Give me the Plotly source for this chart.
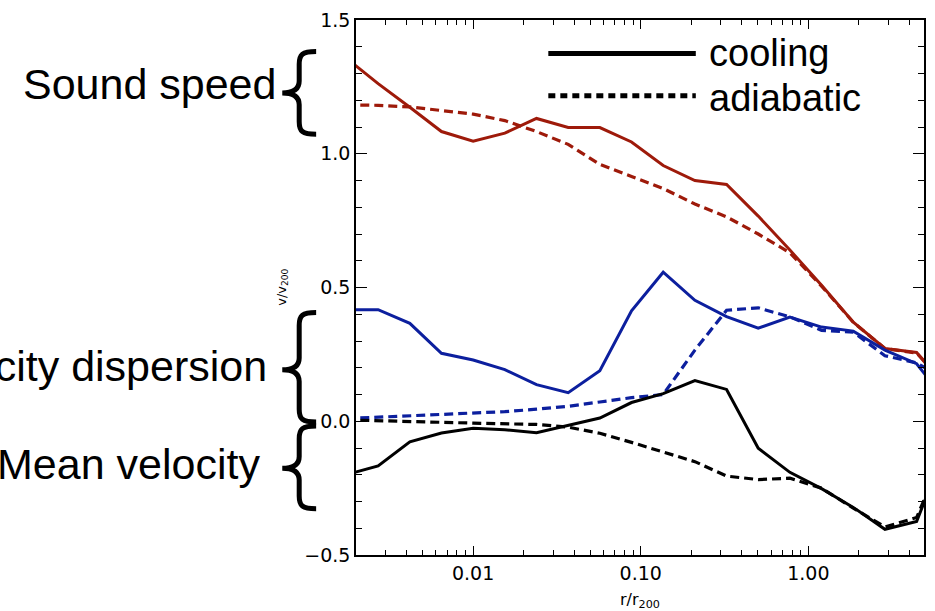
import plotly.graph_objects as go

# ---- data ----
r = [0.00175, 0.00271, 0.00419, 0.00647, 0.0100, 0.01545, 0.02388, 0.0369, 0.0570, 0.0881,
     0.1361, 0.2104, 0.3251, 0.5023, 0.776, 1.199, 1.854, 2.864, 4.426, 6.84]

cs_cool = [1.358, 1.262, 1.174, 1.083, 1.047, 1.077, 1.132, 1.098, 1.098, 1.044,
           0.956, 0.900, 0.885, 0.767, 0.640, 0.508, 0.370, 0.272, 0.257, 0.113]
cs_adi = [1.183, 1.181, 1.175, 1.162, 1.148, 1.124, 1.083, 1.035, 0.960, 0.915,
          0.870, 0.812, 0.764, 0.700, 0.630, 0.505, 0.370, 0.272, 0.255, 0.13]
sig_cool = [0.417, 0.417, 0.366, 0.254, 0.229, 0.193, 0.137, 0.107, 0.189, 0.413,
            0.557, 0.452, 0.391, 0.348, 0.389, 0.352, 0.337, 0.266, 0.215, 0.065]
sig_adi = [0.010, 0.015, 0.020, 0.024, 0.029, 0.036, 0.045, 0.056, 0.072, 0.088,
           0.100, 0.266, 0.415, 0.424, 0.390, 0.340, 0.333, 0.245, 0.218, 0.15]
vm_cool = [-0.20, -0.167, -0.077, -0.044, -0.026, -0.032, -0.043, -0.016, 0.012, 0.07,
           0.103, 0.152, 0.119, -0.101, -0.191, -0.252, -0.322, -0.404, -0.375, -0.07]
vm_adi = [0.005, 0.003, 0.0, -0.004, -0.007, -0.009, -0.012, -0.022, -0.045, -0.079,
          -0.114, -0.151, -0.205, -0.218, -0.213, -0.25, -0.325, -0.395, -0.36, -0.08]

x_tickvals = [0.01, 0.1, 1.0]
x_ticktext = ["0.01", "0.10", "1.00"]
x_minor = [0.002, 0.003, 0.004, 0.005, 0.006, 0.007, 0.008, 0.009,
           0.02, 0.03, 0.04, 0.05, 0.06, 0.07, 0.08, 0.09,
           0.2, 0.3, 0.4, 0.5, 0.6, 0.7, 0.8, 0.9, 2, 3, 4, 5]
y_tickvals = [-0.5, 0.0, 0.5, 1.0, 1.5]
y_ticktext = ["\u22120.5", "0.0", "0.5", "1.0", "1.5"]

RED = "#9e1a0a"
BLUE = "#0c1f9e"
BLACK = "#000000"
FONT = "Liberation Sans, Arial, sans-serif"
TFONT = "DejaVu Sans, sans-serif"

W, H = 935, 611
L, R, T, B = 356, 9, 12, 56
PW, PH = W - L - R, H - T - B


def px(x):
    return (x - L) / PW


def py(y):
    return (H - B - y) / PH


fig = go.Figure()
series = [
    (cs_adi, RED, "9px,5px", 3.2),
    (sig_adi, BLUE, "9px,5px", 3.2),
    (vm_adi, BLACK, "9px,5px", 3.2),
    (cs_cool, RED, "solid", 3),
    (sig_cool, BLUE, "solid", 3),
    (vm_cool, BLACK, "solid", 3),
]
for vals, col, dash, w in series:
    fig.add_trace(go.Scatter(x=r, y=vals, mode="lines",
                             line=dict(color=col, width=w, dash=dash),
                             showlegend=False, hoverinfo="skip"))


def brace(y_top, y_tip, y_bot, x_tip=282, x_stem=299, x_end=316):
    c = lambda x, y: f"{px(x):.5f},{py(y):.5f}"
    d = (f"M {c(x_end, y_top)} "
         f"C {c(x_stem + 3, y_top)} {c(x_stem, y_top + 3)} {c(x_stem, y_top + 13)} "
         f"L {c(x_stem, y_tip - 12)} "
         f"C {c(x_stem, y_tip - 3)} {c(x_stem - 7, y_tip)} {c(x_tip, y_tip)} "
         f"C {c(x_stem - 7, y_tip)} {c(x_stem, y_tip + 3)} {c(x_stem, y_tip + 12)} "
         f"L {c(x_stem, y_bot - 13)} "
         f"C {c(x_stem, y_bot - 3)} {c(x_stem + 3, y_bot)} {c(x_end, y_bot)}")
    return dict(type="path", xref="paper", yref="paper", path=d,
                line=dict(color="black", width=5), layer="above")


shapes = [
    brace(44, 86, 128),
    brace(309, 367, 420),
    brace(424, 467, 508),
    dict(type="line", xref="paper", yref="paper", x0=px(549), x1=px(697),
         y0=py(46), y1=py(46), line=dict(color="black", width=5)),
    dict(type="line", xref="paper", yref="paper", x0=px(549), x1=px(697),
         y0=py(89), y1=py(89), line=dict(color="black", width=5, dash="7px,5px")),
]

annotations = [
    dict(text="Sound speed", x=px(278), y=py(77), xanchor="right", yanchor="middle",
         font=dict(size=43, color="black", family=FONT)),
    dict(text="Velocity dispersion", x=px(269), y=py(363), xanchor="right", yanchor="middle",
         font=dict(size=43, color="black", family=FONT)),
    dict(text="Mean velocity", x=px(262), y=py(463), xanchor="right", yanchor="middle",
         font=dict(size=43, color="black", family=FONT)),
    dict(text="cooling", x=px(708), y=py(46), xanchor="left", yanchor="middle",
         font=dict(size=38, color="black", family=FONT)),
    dict(text="adiabatic", x=px(708), y=py(91), xanchor="left", yanchor="middle",
         font=dict(size=38, color="black", family=FONT)),
    dict(text="v/v<sub>200</sub>", x=px(282), y=0.5, xanchor="center", yanchor="middle",
         textangle=-90, font=dict(size=13, color="black", family=TFONT)),
    dict(text="r/r<sub>200</sub>", x=0.5, y=py(601), xanchor="center", yanchor="middle",
         font=dict(size=16, color="black", family=TFONT)),
]
for a in annotations:
    a.update(xref="paper", yref="paper", showarrow=False)

fig.update_layout(
    width=W, height=H,
    margin=dict(l=L, r=R, t=T, b=B),
    paper_bgcolor="white", plot_bgcolor="white",
    shapes=shapes, annotations=annotations,
    font=dict(family=TFONT, color="black", size=19),
    xaxis=dict(type="log", range=[-2.699, 0.690], tickvals=x_tickvals, ticktext=x_ticktext,
               ticks="inside", ticklen=9, tickwidth=1.2, tickcolor="black",
               showline=True, linecolor="black", linewidth=1.5, mirror="allticks",
               showgrid=False, zeroline=False,
               tickfont=dict(size=19, family=TFONT, color="black"),
               minor=dict(tickvals=x_minor, ticks="inside", ticklen=5, tickwidth=1.2,
                          tickcolor="black", showgrid=False)),
    yaxis=dict(range=[-0.5, 1.5], tickvals=y_tickvals, ticktext=y_ticktext,
               ticks="inside", ticklen=11, tickwidth=1.2, tickcolor="black",
               showline=True, linecolor="black", linewidth=1.5, mirror="allticks",
               showgrid=False, zeroline=False,
               tickfont=dict(size=19, family=TFONT, color="black"),
               minor=dict(dtick=0.1, tick0=0, ticks="inside", ticklen=6, tickwidth=1.2,
                          tickcolor="black", showgrid=False)),
)

fig.write_html("out.html")
